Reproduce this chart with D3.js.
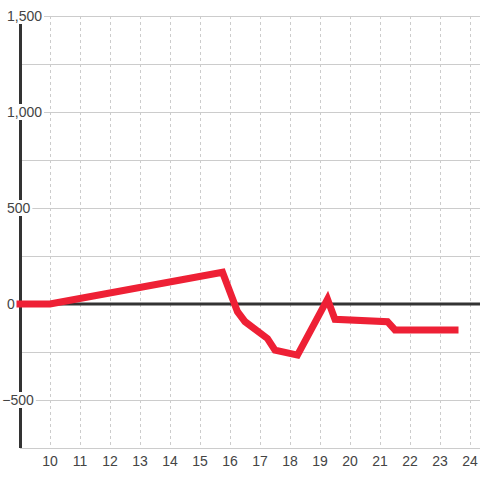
<!DOCTYPE html>
<html>
<head>
<meta charset="utf-8">
<script src="https://cdn.jsdelivr.net/npm/d3@7"></script>
<style>
  html, body { margin: 0; padding: 0; background: #ffffff; }
  svg { display: block; }
  text { font-family: "Liberation Sans", Arial, sans-serif; }
</style>
</head>
<body>
<svg id="chart" width="480" height="480"></svg>
<script>
// Data
const hours  = [9, 10, 15.75, 16.25, 16.5, 17.25, 17.5, 18.25, 19.25, 19.5, 21.25, 21.5, 23.5];
const values = [0, 0, 165, -40, -92, -180, -240, -266, 25, -80, -92, -135, -135];
const xTicks = [10, 11, 12, 13, 14, 15, 16, 17, 18, 19, 20, 21, 22, 23, 24];
const yGrid  = [-750, -500, -250, 0, 250, 500, 750, 1000, 1250, 1500];
const yLabels = [-500, 0, 500, 1000, 1500];

(function () {
const svg = d3.select("#chart");
const W = 480, H = 480;
const mLeft = 20, mRight = 480, mTop = 16, mBottom = 448;

const x = d3.scaleLinear().domain([9, 9 + (mRight - mLeft) / 30]).range([mLeft, mRight]);
const y = d3.scaleLinear().domain([-750, 1500]).range([mBottom, mTop]);

svg.append("rect").attr("width", W).attr("height", H).attr("fill", "#ffffff");

// horizontal grid
svg.append("g").selectAll("line").data(yGrid).join("line")
  .attr("x1", mLeft).attr("x2", mRight)
  .attr("y1", d => Math.round(y(d)) + 0.5).attr("y2", d => Math.round(y(d)) + 0.5)
  .attr("stroke", "#cccccc").attr("stroke-width", 1);

// vertical dashed grid
svg.append("g").selectAll("line").data(xTicks).join("line")
  .attr("x1", d => Math.round(x(d)) + 0.5).attr("x2", d => Math.round(x(d)) + 0.5)
  .attr("y1", mTop).attr("y2", mBottom)
  .attr("stroke", "#cccccc").attr("stroke-width", 1)
  .attr("stroke-dasharray", "3,3");

// y axis line
svg.append("line")
  .attr("x1", mLeft + 0.5).attr("x2", mLeft + 0.5)
  .attr("y1", mTop).attr("y2", mBottom)
  .attr("stroke", "#333333").attr("stroke-width", 3);

// zero line
svg.append("line")
  .attr("x1", mLeft).attr("x2", mRight)
  .attr("y1", y(0)).attr("y2", y(0))
  .attr("stroke", "#333333").attr("stroke-width", 3);

// y labels with background
const fmt = d3.format(",");
const yl = svg.append("g");
yLabels.forEach(v => {
  const g = yl.append("g");
  const t = g.append("text")
    .attr("x", 7).attr("y", y(v))
    .attr("dy", "0.35em")
    .attr("font-size", 14).attr("fill", "#444444")
    .text(fmt(v));
  if (v < 0) {
    const tmp = yl.append("text").attr("font-size", 14).text("-");
    const w = tmp.node().getComputedTextLength();
    tmp.remove();
    t.attr("x", 7 - w);
  }
  const len = t.node().getComputedTextLength();
  const x0 = +t.attr("x");
  g.insert("rect", "text")
    .attr("x", x0 - 2).attr("y", y(v) - 8)
    .attr("width", len + 4).attr("height", 16)
    .attr("fill", "#ffffff");
});

// x labels
svg.append("g").selectAll("text").data(xTicks).join("text")
  .attr("x", d => x(d)).attr("y", 466)
  .attr("text-anchor", "middle")
  .attr("font-size", 14).attr("fill", "#444444")
  .text(d => d);

// series line
const pts = hours.map((h, i) => [h, values[i]]);
svg.append("path")
  .datum(pts)
  .attr("d", d3.line().x(d => x(d[0])).y(d => y(d[1])))
  .attr("fill", "none")
  .attr("stroke", "#ee2035")
  .attr("stroke-width", 7)
  .attr("stroke-linecap", "square")
  .attr("stroke-linejoin", "miter");
})();
</script>
</body>
</html>
